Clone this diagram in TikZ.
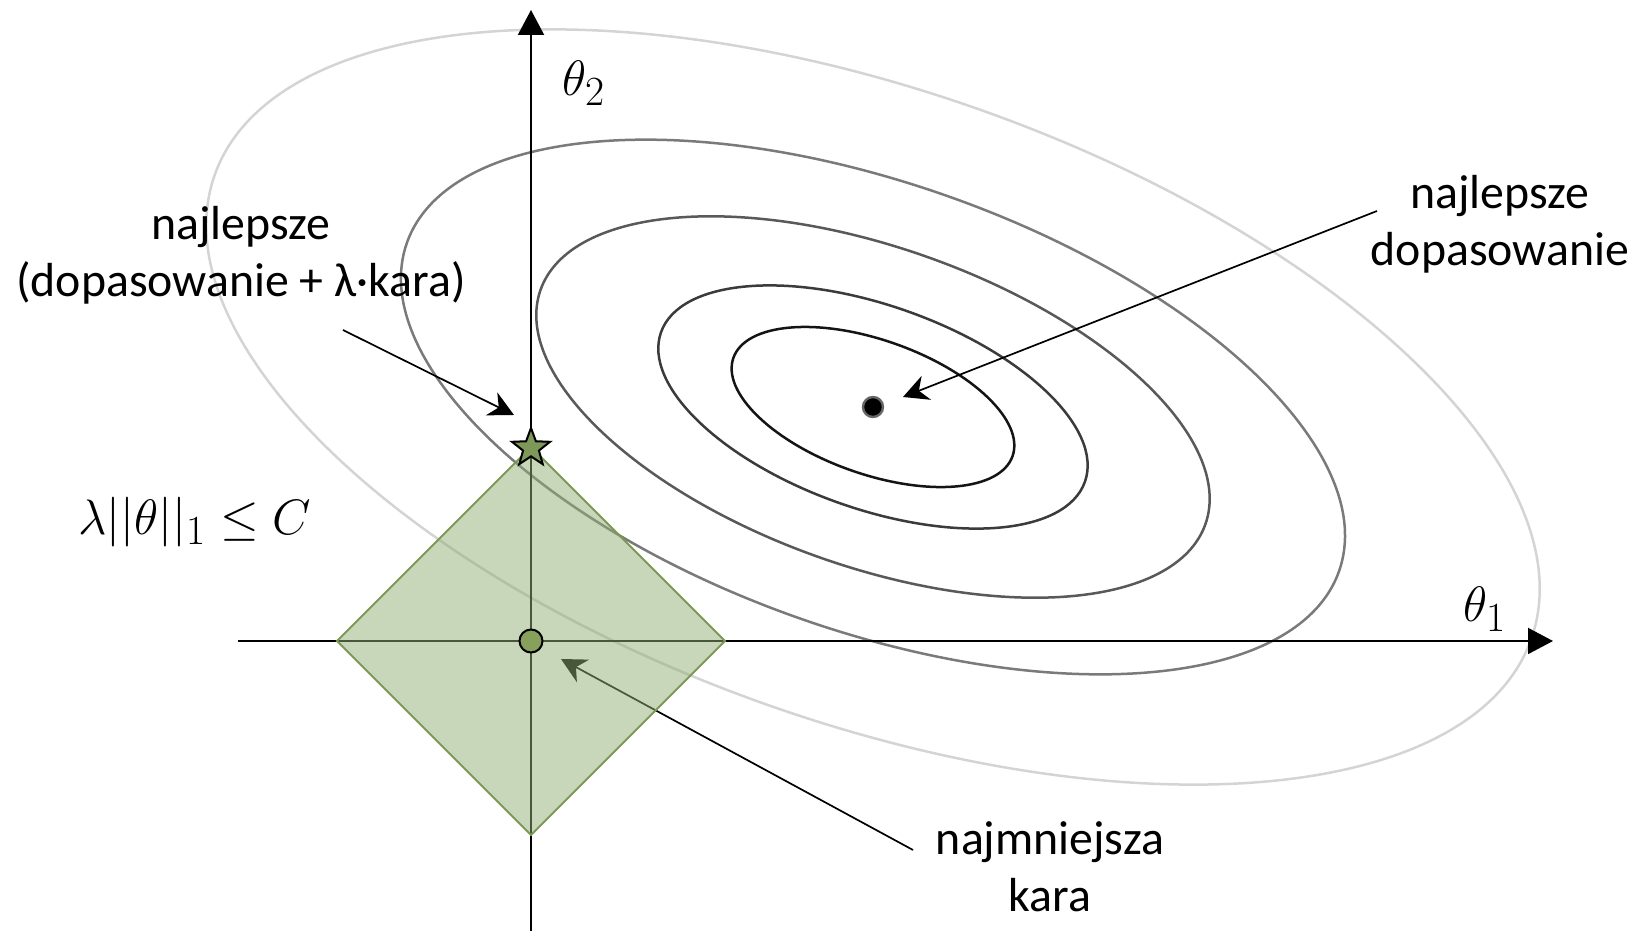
\documentclass[tikz,border=0pt]{standalone}
\usepackage{fontspec}
\setmainfont{Carlito}
\usepackage{tikz}
\usetikzlibrary{arrows.meta, positioning, calc, shapes.geometric}
\definecolor{PenaltyFill}{RGB}{145, 173, 115}
\definecolor{PenaltyEdge}{RGB}{125, 152, 85}
\definecolor{DotGreen}{RGB}{135, 160, 92}
\definecolor{StarGreen}{RGB}{125, 152, 88}

\tikzset{
  lbl/.style={align=center, inner sep=0pt, font=\fontsize{23.9}{28.5}\selectfont},
  mth/.style={inner sep=0pt, font=\fontsize{27.5}{33}\selectfont},
  pointer/.style={line width=0.85pt, -{Stealth[length=12.5pt, width=12.8pt, inset=4pt]}},
  axis/.style={line width=1pt, -{Triangle[length=12.5pt, width=13pt]}},
}

\begin{document}
\begin{tikzpicture}[x=0.5pt, y=0.5pt]
    \useasboundingbox (0,0) rectangle (1640,931);
    \coordinate (O) at (531,290);
    \coordinate (best) at (873,524);

    % contours of the fit
    \foreach \s/\gr in {1/17, 0.708/52, 0.505/65, 0.322/77, 0.212/92}{
      \draw[black!\gr, line width=1.25pt, rotate around={-19.4:(best)}]
        (best) ellipse [x radius=698*\s, y radius=316*\s];
    }

    % axes
    \coordinate (xs) at (238,290);
    \coordinate (xe) at (1553,290);
    \coordinate (ys) at (531,0);
    \coordinate (ye) at (531,921);
    \draw[axis] (xs) -- (xe);
    \draw[axis] (ys) -- (ye);
    \node[mth, anchor=base west] (t2) at (562,835) {$\theta_2$};
    \node[mth, anchor=base west] (t1) at (1463,309) {$\theta_1$};
    \node[mth, font=\fontsize{30.5}{36}\selectfont, anchor=base west] (cons) at (78,396)
      {$\lambda||\theta||_1 \leq C$};

    % labels (base = last line)
    \node[lbl, anchor=base] (lasso) at (241,634) {najlepsze\\(dopasowanie + λ·kara)};
    \node[lbl, anchor=base] (fit) at (1500,665) {najlepsze\\dopasowanie};
    \node[lbl, anchor=base] (small) at (1050,19) {najmniejsza\\kara};

    % pointers
    \coordinate (lassofrom) at (343,601);
    \coordinate (lassoto) at (514,516);
    \coordinate (fitfrom) at (1377,720);
    \coordinate (fitto) at (903,534);
    \coordinate (smallfrom) at (913,81);
    \coordinate (smallto) at (561,272);
    \draw[pointer] (lassofrom) -- (lassoto);
    \draw[pointer] (fitfrom) -- (fitto);
    \draw[pointer] (smallfrom) -- (smallto);

    % L1 ball
    \draw[draw=PenaltyEdge, line width=1pt, fill=PenaltyFill, fill opacity=0.5]
      ($(O)+(0,194)$) -- ($(O)+(194,0)$) -- ($(O)+(0,-194)$) -- ($(O)+(-194,0)$) -- cycle;

    \node[circle, draw=black, line width=1pt, fill=DotGreen,
      minimum size=11.5pt, inner sep=0pt] (zero) at (O) {};
    \node[circle, draw=black!60, line width=1.2pt, fill=black,
      minimum size=10pt, inner sep=0pt] (bestdot) at (best) {};
    \node[star, star points=5, star point ratio=2.4, draw=black, line width=1pt,
      fill=StarGreen, minimum size=20pt, inner sep=0pt] (corner) at ($(O)+(0,193)$) {};
\end{tikzpicture}
\end{document}
